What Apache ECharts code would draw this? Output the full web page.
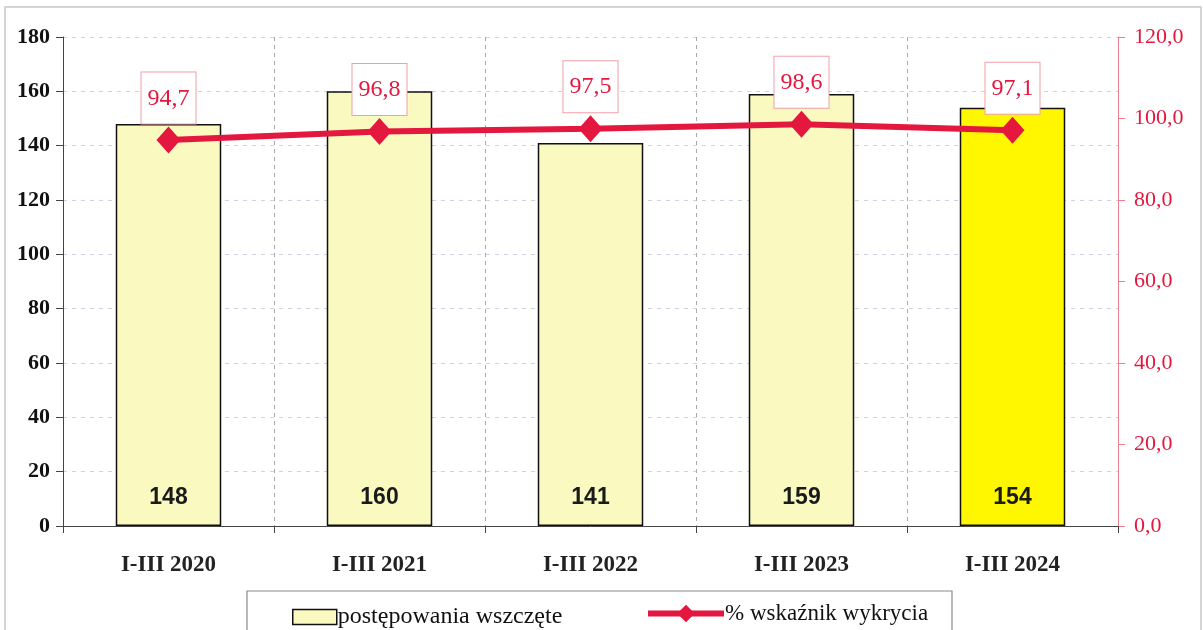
<!DOCTYPE html>
<html>
<head>
<meta charset="utf-8">
<script src="https://cdn.jsdelivr.net/npm/echarts@6/dist/echarts.min.js"></script>
<style>html,body{margin:0;padding:0;background:#fff}#c{width:1203px;height:630px}</style>
</head>
<body>
<div id="c"></div>
<script>
const categories = ['I-III 2020', 'I-III 2021', 'I-III 2022', 'I-III 2023', 'I-III 2024'];
const casesStarted = [148, 160, 141, 159, 154];
const detectionRate = [94.7, 96.8, 97.5, 98.6, 97.1];
const barName = 'postępowania wszczęte';
const lineName = '% wskaźnik wykrycia';

const serif = '"Liberation Serif", "DejaVu Serif", serif';
const red = '#E4173E';

const chart = echarts.init(document.getElementById('c'));
chart.setOption({
  animation: false,
  backgroundColor: '#fff',
  grid: { left: 63, right: 85, top: 37, bottom: 104 },
  graphic: [
    { type: 'rect', shape: { x: 5, y: 7, width: 1196, height: 640 }, style: { fill: 'none', stroke: '#c8c8c8', lineWidth: 1.5 }, silent: true },
    { type: 'rect', shape: { x: 247, y: 591, width: 705, height: 50 }, style: { fill: 'none', stroke: '#8a8a8a', lineWidth: 1.2 }, silent: true }
  ],
  legend: [
    { data: [{ name: barName, icon: 'rect' }], left: 287, top: 600, itemWidth: 44, itemHeight: 15, itemGap: 0,
      itemStyle: { borderColor: '#111', borderWidth: 1.5 },
      textStyle: { fontFamily: serif, fontSize: 24, color: '#111', padding: [0, 0, 0, -4] } },
    { data: [lineName], left: 640, top: 597, itemWidth: 76, itemHeight: 22, itemGap: 0,
      lineStyle: { width: 6, color: red },
      textStyle: { fontFamily: serif, fontSize: 23, color: '#111', padding: [0, 0, 0, -4] } }
  ],
  xAxis: {
    type: 'category',
    data: categories,
    axisLine: { lineStyle: { color: '#444', width: 1 } },
    axisTick: { show: true, length: 7, lineStyle: { color: '#444' } },
    axisLabel: { fontFamily: serif, fontSize: 23, fontWeight: 'bold', color: '#222', margin: 28 },
    splitLine: { show: true, lineStyle: { color: '#aaa', type: [4, 4], width: 1 } }
  },
  yAxis: [
    {
      type: 'value', min: 0, max: 180, interval: 20, position: 'left',
      axisLine: { show: true, lineStyle: { color: '#444' } },
      axisTick: { show: true, length: 7, lineStyle: { color: '#444' } },
      axisLabel: { fontFamily: serif, fontSize: 22, fontWeight: 'bold', color: '#111', margin: 13 },
      splitLine: { show: true, lineStyle: { color: '#cfd2e2', type: [4, 5], width: 1 } }
    },
    {
      type: 'value', min: 0, max: 120, interval: 20, position: 'right',
      axisLine: { show: true, lineStyle: { color: '#E88090' } },
      axisTick: { show: true, length: 7, lineStyle: { color: '#E88090' } },
      axisLabel: { fontFamily: serif, fontSize: 22, color: red, margin: 16,
        formatter: v => v.toFixed(1).replace('.', ',') },
      splitLine: { show: false }
    }
  ],
  series: [
    {
      name: barName, type: 'bar', yAxisIndex: 0, barWidth: '50%',
      data: casesStarted.map((v, i) => ({
        value: v,
        itemStyle: { color: i === casesStarted.length - 1 ? '#FFF700' : '#F9F9C0' }
      })),
      itemStyle: { color: '#F9F9C0', borderColor: '#111', borderWidth: 1.5 },
      label: { show: true, position: 'insideBottom', distance: 17,
        fontFamily: '"Liberation Sans", Arial, sans-serif', fontWeight: 'bold', fontSize: 23, color: '#1a1a1a' },
      z: 2
    },
    {
      name: lineName, type: 'line', yAxisIndex: 1,
      data: detectionRate,
      lineStyle: { color: red, width: 6 },
      itemStyle: { color: red },
      symbol: 'diamond', symbolSize: [24, 27],
      label: { show: true, position: 'top', distance: 3,
        formatter: p => p.value.toFixed(1).replace('.', ','),
        fontFamily: serif, fontSize: 24, color: red,
        backgroundColor: '#fff', borderColor: '#F0A0A8', borderWidth: 1,
        padding: [14, 6, 13, 6] },
      z: 5
    }
  ]
});
</script>
</body>
</html>
